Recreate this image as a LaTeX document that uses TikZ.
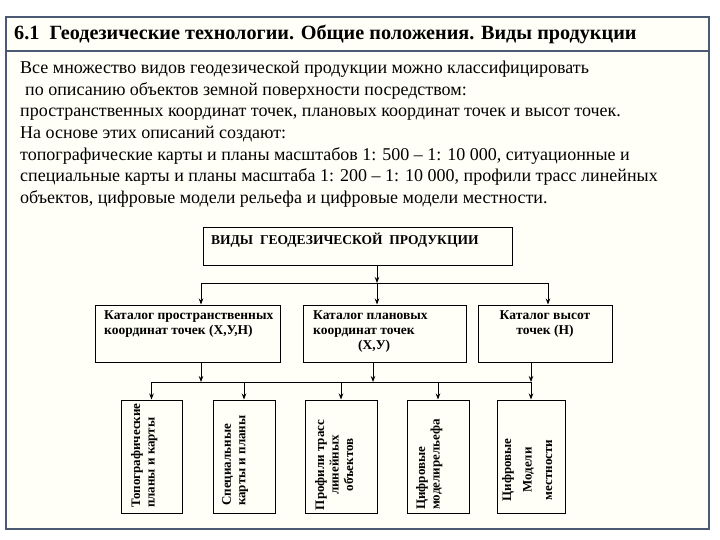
\documentclass[tikz,border=0pt]{standalone}
\usepackage{fontspec}
\setmainfont{Liberation Serif}
\newfontfamily\tms{Liberation Serif}
\usetikzlibrary{arrows.meta,calc}
\definecolor{framecol}{HTML}{4B5A72}
\definecolor{cream}{HTML}{FFFFF7}
\tikzset{
  frame/.style={draw=framecol, line width=1.8pt},
  box/.style={draw=black, line width=1pt, inner sep=0pt},
  arr/.style={-{Stealth[length=6pt,width=4.5pt]}, line width=0.8pt},
  ln/.style={line width=0.8pt},
  mt/.style={font=\tms\bfseries\fontsize{13.5}{15}\selectfont, inner sep=0pt, align=left},
  bt/.style={font=\tms\bfseries\fontsize{13}{14.5}\selectfont, inner sep=0pt, rotate=90},
}
\begin{document}
\begin{tikzpicture}[x=1pt,y=-1pt]
\useasboundingbox (0,0) rectangle (720,540);
\fill[white] (0,0) rectangle (720,540);
\draw[frame, fill=cream] (6,17) rectangle (709,529);
\draw[frame] (6,51) -- (709,51);
\node[anchor=base west, inner sep=0pt, font=\tms\bfseries\fontsize{20.2}{22}\selectfont] (title) at (14,40)
  {6.1\ \ Геодезические технологии. Общие положения. Виды продукции};
\node[anchor=north west, inner sep=0pt, align=left, font=\tms\fontsize{18}{21.6}\selectfont] (body) at (20,61)
  {Все множество видов геодезической продукции можно классифицировать\\
   \hspace*{5pt}по описанию объектов земной поверхности посредством:\\
   пространственных координат точек, плановых координат точек и высот точек.\\
   На основе этих описаний создают:\\
   топографические карты и планы масштабов 1: 500 – 1: 10 000, ситуационные и\\
   специальные карты и планы масштаба 1: 200 – 1: 10 000, профили трасс линейных\\
   объектов, цифровые модели рельефа и цифровые модели местности.};

% top box
\node[box, minimum width=309pt, minimum height=37pt] (top) at (357.5,246.5) {};
\node[anchor=west, inner sep=0pt, font=\tms\bfseries\fontsize{13.5}{15}\selectfont] (toptext) at (211,240.5)
  {ВИДЫ\ \ ГЕОДЕЗИЧЕСКОЙ\ \ ПРОДУКЦИИ};

% middle boxes
\node[box, minimum width=185pt, minimum height=57pt] (m1) at (187.5,333.5) {};
\node[box, minimum width=163pt, minimum height=57pt] (m2) at (384.5,333.5) {};
\node[box, minimum width=134pt, minimum height=57pt] (m3) at (545,333.5) {};
\node[mt, anchor=north west] (m1t) at (104,310) {Каталог пространственных\\координат точек (Х,У,Н)};
\node[mt, anchor=north west] (m2t) at (313,310) {Каталог плановых\\координат точек\\\hspace*{45pt}(Х,У)};
\node[mt, anchor=north, align=center] (m3t) at (545,310) {Каталог высот\\точек (Н)};

% connectors top -> middle
\coordinate (j0) at (377,283);
\coordinate (ja) at (201,283);
\coordinate (jc) at (548,283);
\draw[arr] (top.south -| j0) -- (j0);
\draw[ln] (ja) -- (jc);
\draw[arr] (ja) -- (ja |- m1.north);
\draw[arr] (j0) -- (j0 |- m2.north);
\draw[arr] (jc) -- (jc |- m3.north);

% bottom boxes
\node[box, minimum width=61pt, minimum height=113pt] (b1) at (151.5,456.5) {};
\node[box, minimum width=62pt, minimum height=113pt] (b2) at (244,456.5) {};
\node[box, minimum width=72pt, minimum height=113pt] (b3) at (341,456.5) {};
\node[box, minimum width=62pt, minimum height=113pt] (b4) at (438,456.5) {};
\node[box, minimum width=68pt, minimum height=113pt] (b5) at (531,456.5) {};
\node[bt, anchor=north west, align=left] (b1t) at (131,508) {Топографические\\планы и карты};
\node[bt, anchor=north west, align=left] (b2t) at (222,506) {Специальные\\карты и планы};
\node[bt, anchor=north, align=center] (b3t) at (315,465) {Профили трасс\\линейных\\объектов};
\node[bt, anchor=north west, align=left] (b4t) at (416,510) {Цифровые\\моделирельефа};
\node[bt, anchor=north, align=center, font=\tms\bfseries\fontsize{13}{20.5}\selectfont] (b5t) at (502,470) {Цифровые\\Модели\\местности};

% connectors middle -> bottom
\coordinate (ka) at (201,382);
\coordinate (kb) at (373,382);
\coordinate (kc) at (531,382);
\coordinate (kl) at (151.5,382);
\draw[arr] (m1.south -| ka) -- (ka);
\draw[arr] (m2.south -| kb) -- (kb);
\draw[arr] (m3.south -| kc) -- (kc);
\draw[ln] (kl) -- (kc);
\draw[arr] (kl) -- (b1.north);
\draw[arr] (b2.north |- kl) -- (b2.north);
\draw[arr] (b3.north |- kl) -- (b3.north);
\draw[arr] (b4.north |- kl) -- (b4.north);
\draw[arr] (kc) -- (b5.north);
\end{tikzpicture}
\end{document}
